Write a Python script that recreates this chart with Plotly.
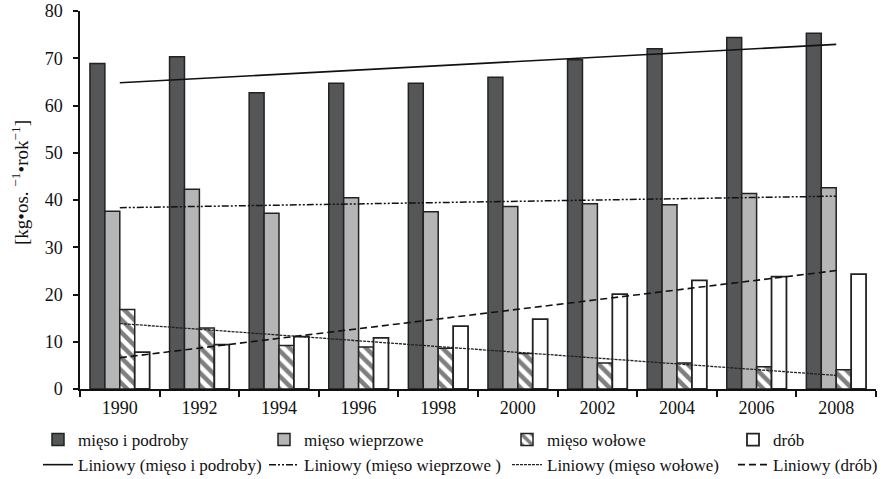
import numpy as np
import plotly.graph_objects as go

years = ["1990", "1992", "1994", "1996", "1998", "2000", "2002", "2004", "2006", "2008"]
mieso_podroby = [68.9, 70.3, 62.7, 64.7, 64.7, 66.0, 69.7, 72.0, 74.4, 75.3]
mieso_wieprzowe = [37.6, 42.3, 37.2, 40.5, 37.5, 38.6, 39.2, 39.0, 41.4, 42.6]
mieso_wolowe = [16.8, 12.9, 9.2, 8.9, 8.6, 7.5, 5.5, 5.5, 4.7, 4.1]
drob = [7.8, 9.4, 11.1, 10.8, 13.3, 14.8, 20.1, 23.0, 23.8, 24.3]

FONT = "Liberation Serif"
idx = np.arange(len(years))


def trend(vals):
    k, b = np.polyfit(idx, vals, 1)
    return list(k * idx + b)


fig = go.Figure()
fig.add_trace(go.Bar(x=years, y=mieso_podroby, name="mięso i podroby",
                     marker=dict(color="#545658", line=dict(color="#222", width=1.5)),
                     legend="legend"))
fig.add_trace(go.Bar(x=years, y=mieso_wieprzowe, name="mięso wieprzowe",
                     marker=dict(color="#b5b5b5", line=dict(color="#222", width=1.5)),
                     legend="legend2"))
fig.add_trace(go.Bar(x=years, y=mieso_wolowe, name="mięso wołowe",
                     marker=dict(color="white", line=dict(color="#222", width=1.5),
                                 pattern=dict(shape="\\", fgcolor="#000", bgcolor="white",
                                              size=9, solidity=0.5)),
                     legend="legend3"))
fig.add_trace(go.Bar(x=years, y=drob, name="drób",
                     marker=dict(color="white", line=dict(color="#222", width=1.8)),
                     legend="legend4"))

fig.add_trace(go.Scatter(x=years, y=trend(mieso_podroby), mode="lines",
                         name="Liniowy (mięso i podroby)",
                         line=dict(color="#111", width=1.6), legend="legend"))
fig.add_trace(go.Scatter(x=years, y=trend(mieso_wieprzowe), mode="lines",
                         name="Liniowy (mięso wieprzowe )",
                         line=dict(color="#111", width=1.5, dash="7px,2px,2px,2px,2px,2px"),
                         legend="legend2"))
fig.add_trace(go.Scatter(x=years, y=trend(mieso_wolowe), mode="lines",
                         name="Liniowy (mięso wołowe)",
                         line=dict(color="#222", width=1.3, dash="3px,1px"),
                         legend="legend3"))
fig.add_trace(go.Scatter(x=years, y=trend(drob), mode="lines",
                         name="Liniowy (drób)",
                         line=dict(color="#111", width=1.6, dash="7px,4px"),
                         legend="legend4"))

FIG_W, FIG_H = 888, 479
M_L, M_R, M_T, M_B = 80, 12, 11, 90
PLOT_W = FIG_W - M_L - M_R
PLOT_H = FIG_H - M_T - M_B

leg_common = dict(orientation="v", xref="container", yref="container", yanchor="top",
                  y=1 - 422 / FIG_H, xanchor="left",
                  font=dict(family=FONT, size=17, color="#111"),
                  bgcolor="rgba(0,0,0,0)", tracegroupgap=0)

fig.update_layout(
    width=FIG_W, height=FIG_H,
    margin=dict(l=M_L, r=M_R, t=M_T, b=M_B, autoexpand=False),
    paper_bgcolor="white", plot_bgcolor="white",
    barmode="group", bargap=0.25, bargroupgap=0,
    font=dict(family=FONT, size=18, color="#111"),
    showlegend=True,
    legend=dict(leg_common, x=38 / FIG_W),
    legend2=dict(leg_common, x=264 / FIG_W),
    legend3=dict(leg_common, x=507 / FIG_W),
    legend4=dict(leg_common, x=733 / FIG_W),
    xaxis=dict(type="category", tickson="boundaries", ticks="outside", ticklen=6,
               tickwidth=1.5, tickcolor="#111", showline=True, linecolor="#111",
               linewidth=1.5, showgrid=False, ticklabelstandoff=2, automargin=False,
               ticklabeloverflow="allow", tickfont=dict(family=FONT, size=18)),
    yaxis=dict(range=[0, 80], dtick=10, ticks="outside", ticklen=5, tickwidth=1.5,
               tickcolor="#111", showline=True, linecolor="#111", linewidth=1.5,
               showgrid=False, zeroline=False, ticklabelstandoff=7, automargin=False,
               ticklabeloverflow="allow", tickfont=dict(family=FONT, size=18)),
    annotations=[dict(text="[kg•os. <sup>−1</sup>•rok<sup>−1</sup>]",
                      textangle=-90, xref="paper", yref="paper",
                      x=(20 - M_L) / PLOT_W, y=(FIG_H - M_B - 183) / PLOT_H,
                      xanchor="center", yanchor="middle",
                      showarrow=False, font=dict(family=FONT, size=19, color="#111"))],
)

fig.write_html("out.html", config={"displayModeBar": False},
               post_script="document.body.style.margin='0px';")
